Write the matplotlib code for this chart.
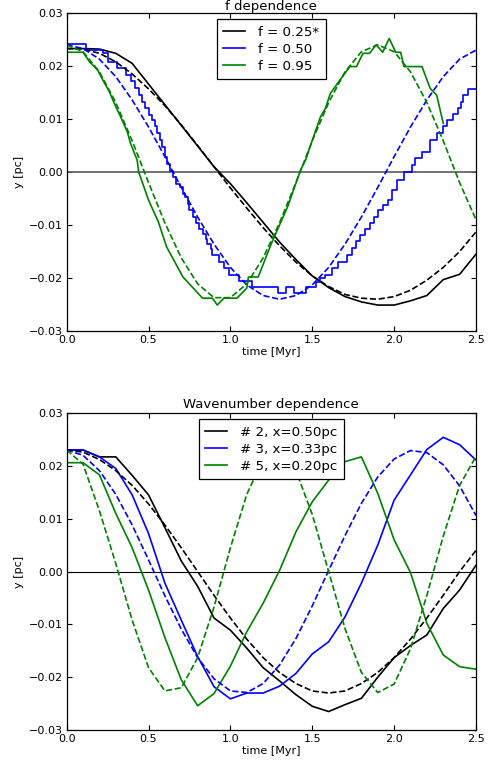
import numpy as np
import matplotlib
matplotlib.use("Agg")
import matplotlib.pyplot as plt

plt.rcParams.update({
    "font.size": 8, "axes.linewidth": 0.9,
    "xtick.direction": "in", "ytick.direction": "in",
    "xtick.top": True, "ytick.right": True,
    "xtick.major.size": 3.5, "ytick.major.size": 3.5,
    "xtick.major.pad": 2.5, "ytick.major.pad": 2.5,
    "lines.linewidth": 1.2,
})

# ---------------- top panel: f dependence ----------------
t_ana = np.linspace(0, 2.5, 26)   # sampling of the analytic (dashed) curves
f25_ana = [0.0233, 0.0232, 0.0224, 0.0208, 0.0185, 0.0157, 0.0125, 0.0089, 0.0050, 0.0010,
           -0.0030, -0.0068, -0.0105, -0.0139, -0.0170, -0.0196, -0.0216, -0.0231, -0.0238, -0.0240,
           -0.0235, -0.0223, -0.0204, -0.0180, -0.0150, -0.0113]
f50_ana = [0.0240, 0.0233, 0.0213, 0.0180, 0.0136, 0.0085, 0.0029, -0.0029, -0.0085, -0.0136,
           -0.0180, -0.0213, -0.0233, -0.0240, -0.0233, -0.0213, -0.0180, -0.0136, -0.0085, -0.0029,
           0.0029, 0.0085, 0.0136, 0.0180, 0.0213, 0.0230]
f95_ana = [0.0240, 0.0227, 0.0189, 0.0131, 0.0059, -0.0020, -0.0096, -0.0162, -0.0211, -0.0237,
           -0.0237, -0.0211, -0.0162, -0.0096, -0.0020, 0.0059, 0.0131, 0.0189, 0.0227, 0.0240,
           0.0227, 0.0189, 0.0131, 0.0059, -0.0020, -0.0090]

t_f25 = [0.0, 0.1, 0.2, 0.3, 0.4, 0.5, 0.6, 0.7, 0.8, 0.9, 1.0, 1.1, 1.2, 1.3, 1.4, 1.5, 1.6,
         1.7, 1.8, 1.9, 2.0, 2.1, 2.2, 2.3, 2.4, 2.5]
y_f25 = [0.0233, 0.0233, 0.0232, 0.0224, 0.0205, 0.0166, 0.0127, 0.0088, 0.0049, 0.0010,
         -0.0022, -0.0058, -0.0095, -0.0132, -0.0165, -0.0196, -0.0218, -0.0235, -0.0245, -0.0251,
         -0.0251, -0.0243, -0.0233, -0.0203, -0.0193, -0.0155]

t_f50 = [0.00, 0.12, 0.22, 0.25, 0.31, 0.36, 0.39, 0.42, 0.44, 0.46, 0.48, 0.50, 0.52, 0.54,
         0.55, 0.57, 0.58, 0.60, 0.61, 0.63, 0.65, 0.67, 0.69, 0.71, 0.72, 0.74, 0.75, 0.77,
         0.79, 0.81, 0.83, 0.85, 0.86, 0.88, 0.89, 0.93, 0.96, 0.99, 1.05, 1.13, 1.29, 1.34,
         1.39, 1.46, 1.52, 1.55, 1.58, 1.62, 1.66, 1.71, 1.74, 1.77, 1.79, 1.82, 1.85, 1.88,
         1.90, 1.93, 1.96, 1.99, 2.02, 2.06, 2.11, 2.13, 2.17, 2.22, 2.26, 2.30, 2.32, 2.36,
         2.39, 2.41, 2.42, 2.45, 2.50]
y_f50 = [0.0242, 0.0231, 0.0224, 0.0208, 0.0196, 0.0183, 0.0171, 0.0158, 0.0146, 0.0133,
         0.0121, 0.0108, 0.0098, 0.0086, 0.0073, 0.0060, 0.0048, 0.0029, 0.0016, 0.0002,
         -0.0010, -0.0022, -0.0028, -0.0041, -0.0047, -0.0060, -0.0072, -0.0085, -0.0097,
         -0.0107, -0.0116, -0.0126, -0.0135, -0.0146, -0.0157, -0.0169, -0.0182, -0.0194,
         -0.0205, -0.0216, -0.0229, -0.0216, -0.0229, -0.0216, -0.0207, -0.0200, -0.0194,
         -0.0182, -0.0169, -0.0157, -0.0144, -0.0131, -0.0119, -0.0108, -0.0097, -0.0085,
         -0.0072, -0.0062, -0.0053, -0.0034, -0.0015, 0.0000, 0.0013, 0.0026, 0.0038, 0.0060,
         0.0073, 0.0086, 0.0098, 0.0110, 0.0120, 0.0133, 0.0145, 0.0157, 0.0157]

t_f95 = [0.00, 0.10, 0.14, 0.19, 0.22, 0.26, 0.30, 0.33, 0.37, 0.39, 0.43, 0.44, 0.50, 0.56,
         0.61, 0.71, 0.83, 0.89, 0.92, 0.96, 1.04, 1.10, 1.11, 1.17, 1.25, 1.35, 1.43, 1.46,
         1.50, 1.55, 1.58, 1.61, 1.64, 1.67, 1.73, 1.77, 1.81, 1.85, 1.89, 1.93, 1.97, 2.01,
         2.04, 2.06, 2.17, 2.22, 2.26, 2.30]
y_f95 = [0.0226, 0.0226, 0.0208, 0.0192, 0.0174, 0.0152, 0.0123, 0.0104, 0.0076, 0.0054,
         0.0023, 0.0000, -0.0053, -0.0094, -0.0141, -0.0198, -0.0238, -0.0238, -0.0251,
         -0.0238, -0.0238, -0.0219, -0.0198, -0.0198, -0.0135, -0.0065, 0.0005, 0.0023,
         0.0060, 0.0104, 0.0120, 0.0148, 0.0161, 0.0174, 0.0199, 0.0199, 0.0224, 0.0224,
         0.0240, 0.0226, 0.0252, 0.0226, 0.0226, 0.0199, 0.0199, 0.0158, 0.0145, 0.0092]

# ---------------- bottom panel: wavenumber dependence ----------------
t_sim = [0.0, 0.1, 0.2, 0.3, 0.4, 0.5, 0.6, 0.7, 0.8, 0.9, 1.0, 1.1, 1.2, 1.3, 1.4, 1.5, 1.6,
         1.7, 1.8, 1.9, 2.0, 2.1, 2.2, 2.3, 2.4, 2.5]
k2_sim = [0.0230, 0.0230, 0.0217, 0.0217, 0.0182, 0.0145, 0.0083, 0.0020, -0.0028, -0.0088,
          -0.0111, -0.0145, -0.0182, -0.0207, -0.0233, -0.0255, -0.0265, -0.0252, -0.0240,
          -0.0200, -0.0163, -0.0140, -0.0120, -0.0070, -0.0035, 0.0012]
k3_sim = [0.0230, 0.0230, 0.0217, 0.0195, 0.0145, 0.0072, -0.0022, -0.0092, -0.0161, -0.0218,
          -0.0241, -0.0230, -0.0230, -0.0217, -0.0193, -0.0156, -0.0133, -0.0086, -0.0022,
          0.0050, 0.0135, 0.0183, 0.0231, 0.0254, 0.0240, 0.0211]
k5_sim = [0.0206, 0.0206, 0.0183, 0.0110, 0.0045, -0.0035, -0.0125, -0.0205, -0.0254, -0.0231,
          -0.0179, -0.0114, -0.0060, 0.0002, 0.0075, 0.0132, 0.0173, 0.0208, 0.0217, 0.0148,
          0.0060, -0.0002, -0.0098, -0.0158, -0.0180, -0.0185]

k2_ana = [0.0230, 0.0226, 0.0212, 0.0191, 0.0163, 0.0128, 0.0088, 0.0045, 0.0000, -0.0045,
          -0.0088, -0.0128, -0.0163, -0.0191, -0.0212, -0.0226, -0.0230, -0.0226, -0.0212,
          -0.0191, -0.0163, -0.0128, -0.0088, -0.0045, 0.0000, 0.0040]
k3_ana = [0.0230, 0.0220, 0.0191, 0.0146, 0.0088, 0.0022, -0.0046, -0.0109, -0.0163, -0.0203,
          -0.0226, -0.0229, -0.0212, -0.0177, -0.0127, -0.0065, 0.0002, 0.0068, 0.0129, 0.0179,
          0.0213, 0.0229, 0.0225, 0.0202, 0.0162, 0.0106]
k5_ana = [0.0230, 0.0203, 0.0115, 0.0015, -0.0092, -0.0182, -0.0226, -0.0220, -0.0163, -0.0067,
          0.0045, 0.0146, 0.0213, 0.0229, 0.0191, 0.0108, 0.0000, -0.0108, -0.0191, -0.0229,
          -0.0213, -0.0146, -0.0045, 0.0067, 0.0163, 0.0218]

fig = plt.figure(figsize=(4.95, 7.67), dpi=100)
ax1 = fig.add_axes([0.1347, 0.5684, 0.8269, 0.4146])
ax2 = fig.add_axes([0.1347, 0.0482, 0.8269, 0.4133])

ax1.axhline(0, color="0.35", lw=1.2)
ax1.plot(t_f25, y_f25, color="k", label="f = 0.25*")
ax1.plot(t_f50, y_f50, color="b", drawstyle="steps-post", label="f = 0.50")
ax1.plot(t_f95, y_f95, color="g", label="f = 0.95")
ax1.plot(t_ana, f25_ana, "--", color="k")
ax1.plot(t_ana, f50_ana, "--", color="b")
ax1.plot(t_ana, f95_ana, "--", color="g")
ax1.set_title("f dependence", fontsize=9.5, pad=1.5)

ax2.axhline(0, color="k", lw=0.8)
ax2.plot(t_sim, k2_sim, color="k", label="# 2, x=0.50pc")
ax2.plot(t_sim, k3_sim, color="b", label="# 3, x=0.33pc")
ax2.plot(t_sim, k5_sim, color="g", label="# 5, x=0.20pc")
ax2.plot(t_sim, k2_ana, "--", color="k")
ax2.plot(t_sim, k3_ana, "--", color="b")
ax2.plot(t_sim, k5_ana, "--", color="g")
ax2.set_title("Wavenumber dependence", fontsize=9.5, pad=3.5)

for ax in (ax1, ax2):
    ax.set_xlim(0, 2.5)
    ax.set_ylim(-0.03, 0.03)
    ax.set_xticks([0.0, 0.5, 1.0, 1.5, 2.0, 2.5])
    ax.set_yticks([-0.03, -0.02, -0.01, 0.0, 0.01, 0.02, 0.03])
    ax.set_xlabel("time [Myr]", labelpad=2)
    ax.set_ylabel("y [pc]", labelpad=4)
    leg = ax.legend(loc="upper center", fontsize=9.6, fancybox=False, framealpha=1,
                    edgecolor="k", handlelength=1.6, handletextpad=1.0,
                    labelspacing=0.3, borderpad=0.5, borderaxespad=0.45)
    leg.get_frame().set_linewidth(0.9)

fig.savefig("out.png", dpi=100)
